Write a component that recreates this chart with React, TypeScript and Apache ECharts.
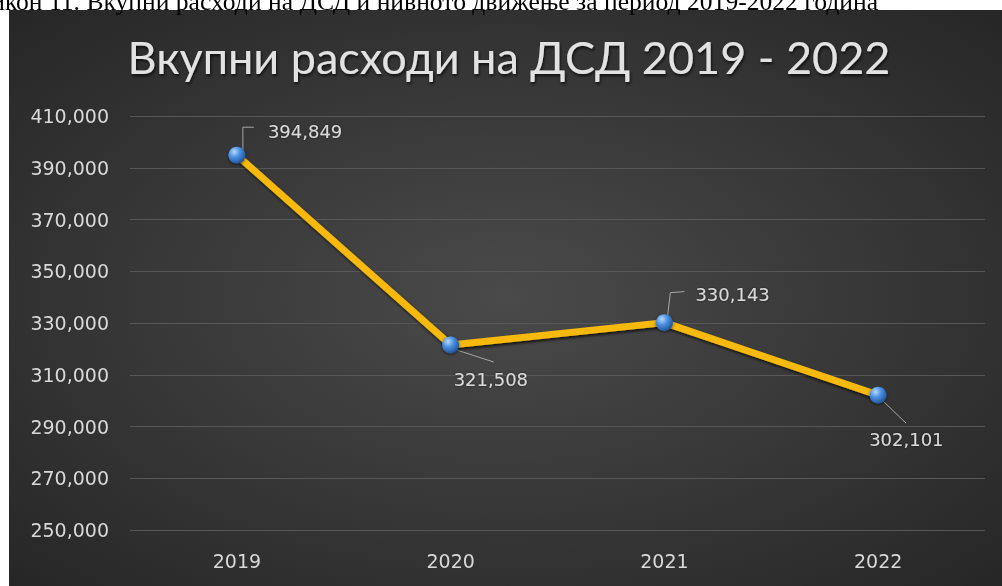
import React, { useEffect, useRef } from "react";
import * as echarts from "echarts";

const CAPTION = "Графикон 11. Вкупни расходи на ДСД и нивното движење за период 2019-2022 година";
const TITLE = "Вкупни расходи на ДСД 2019 - 2022";
const YEARS = ["2019", "2020", "2021", "2022"];
const TOTALS = [394849, 321508, 330143, 302101];
const Y_MIN = 250000;
const Y_MAX = 410000;
const Y_STEP = 20000;

// label placement relative to each point (layout only)
const LABEL_LAYOUT = [
  { dx: 31, dy: -24, leader: [[6, -5], [6, -28], [17, -28]] },
  { dx: 3, dy: 35, leader: [[6, 5], [43, 17]] },
  { dx: 31, dy: -28, leader: [[3, -5], [6, -30], [20, -31]] },
  { dx: -9, dy: 44, leader: [[4, 5], [28, 28]] },
];

const fmt = (v: number) => v.toLocaleString("en-US");

export default function App() {
  const ref = useRef<HTMLDivElement>(null);
  useEffect(() => {
    if (!ref.current) return;
    const chart = echarts.init(ref.current, undefined, { renderer: "svg" });
    chart.setOption({
      animation: false,
      grid: { left: 130, right: 17, top: 116, bottom: 56, containLabel: false },
      graphic: [
        {
          type: "rect",
          z: -100,
          silent: true,
          shape: { x: 9, y: 10, width: 993, height: 576 },
          style: {
            fill: new echarts.graphic.RadialGradient(0.5, 0.5, 0.75, [
              { offset: 0, color: "#4a4a4a" },
              { offset: 1, color: "#242424" },
            ]),
          },
        },
        {
          type: "text",
          x: 878,
          y: 1,
          silent: true,
          style: {
            text: CAPTION,
            fill: "#000000",
            fontFamily: "Liberation Serif",
            fontSize: 25.6,
            align: "right",
            verticalAlign: "middle",
          },
        },
        {
          type: "text",
          x: 509,
          y: 57,
          silent: true,
          style: {
            text: TITLE,
            fill: "#e2e2e2",
            fontFamily: "Lato",
            fontSize: 45,
            align: "center",
            verticalAlign: "middle",
            textShadowColor: "rgba(0,0,0,0.7)",
            textShadowBlur: 3,
            textShadowOffsetX: 1,
            textShadowOffsetY: 2,
          },
        },
      ],
      xAxis: {
        type: "category",
        data: YEARS,
        boundaryGap: true,
        axisLine: { show: false },
        axisTick: { show: false },
        axisLabel: {
          color: "#d9d9d9",
          fontFamily: "DejaVu Sans",
          fontSize: 19,
          margin: 21,
        },
        splitLine: { show: false },
      },
      yAxis: {
        type: "value",
        min: Y_MIN,
        max: Y_MAX,
        interval: Y_STEP,
        axisLine: { show: false },
        axisTick: { show: false },
        axisLabel: {
          color: "#d9d9d9",
          fontFamily: "DejaVu Sans",
          fontSize: 19,
          margin: 21,
          formatter: (v: number) => fmt(v),
        },
        splitLine: { lineStyle: { color: "#575757", width: 1 } },
      },
      series: [
        {
          type: "custom",
          z: 1,
          silent: true,
          data: TOTALS.map((v, i) => [i, v]),
          renderItem: (params: any, api: any) => {
            const i = params.dataIndex;
            const p = api.coord([api.value(0), api.value(1)]);
            const o = LABEL_LAYOUT[i];
            return {
              type: "group",
              children: [
                {
                  type: "polyline",
                  shape: { points: o.leader.map(([dx, dy]) => [p[0] + dx, p[1] + dy]) },
                  style: { stroke: "#a6a6a6", lineWidth: 1, fill: null },
                },
                {
                  type: "text",
                  x: p[0] + o.dx,
                  y: p[1] + o.dy,
                  style: {
                    text: fmt(api.value(1)),
                    fill: "#d9d9d9",
                    fontFamily: "DejaVu Sans",
                    fontSize: 18,
                    align: "left",
                    verticalAlign: "middle",
                    textShadowColor: "rgba(0,0,0,0.6)",
                    textShadowBlur: 2,
                  },
                },
              ],
            };
          },
        },
        {
          type: "line",
          z: 3,
          data: TOTALS,
          symbol: "circle",
          symbolSize: 17,
          lineStyle: {
            color: "#F7B90A",
            width: 7,
            shadowColor: "rgba(0,0,0,0.75)",
            shadowBlur: 3,
            shadowOffsetX: 1,
            shadowOffsetY: 2,
          },
          itemStyle: {
            color: new echarts.graphic.RadialGradient(0.35, 0.3, 0.75, [
              { offset: 0, color: "#b5d9ff" },
              { offset: 0.45, color: "#4a8fe0" },
              { offset: 1, color: "#1d4f94" },
            ]),
            borderWidth: 0,
            shadowColor: "rgba(0,0,0,0.6)",
            shadowBlur: 3,
            shadowOffsetY: 1,
          },
          label: { show: false },
        },
      ],
    });
    return () => chart.dispose();
  }, []);
  return (
    <div
      ref={ref}
      style={{ position: "fixed", left: 0, top: 0, width: 1002, height: 586 }}
    />
  );
}
